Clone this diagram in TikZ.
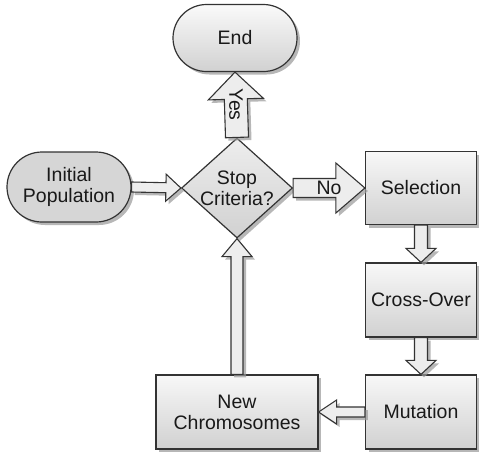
\documentclass[tikz,border=0pt]{standalone}
\usepackage{fontspec}
\setmainfont{Liberation Sans}
\usetikzlibrary{shapes.geometric,shapes.misc,shadows,calc}

\tikzstyle{sombra}= [drop shadow={shadow xshift=3pt,shadow yshift=-3pt,fill=black!40,opacity=0.7}]
\tikzstyle{texto}= [font=\fontsize{19.5}{21}\selectfont,text=black!90,align=center]
\tikzstyle{proceso}= [rectangle,draw=black!80,line width=1.2pt,top color=black!3,bottom color=black!18,sombra,texto,inner sep=0pt,minimum width=111pt,minimum height=74pt]
\tikzstyle{terminal}= [rounded rectangle,draw=black!80,line width=1.2pt,sombra,texto,inner sep=0pt,minimum width=124pt]
\tikzstyle{decision}= [diamond,draw=black!80,line width=1.2pt,top color=black!7,bottom color=black!18,sombra,inner sep=0pt,minimum width=111pt,minimum height=100pt]
\tikzset{flecha/.style args={#1/#2/#3}{draw=black!80,line width=1.1pt,fill=black!7,sombra,
  to path={let \p1=(\tikztostart), \p2=(\tikztotarget), \n1={atan2(\y2-\y1,\x2-\x1)} in
    ($(\p1)+(\n1+90:#1)$) -- ($(\p2)+(\n1+180:#3)+(\n1+90:#1)$) -- ($(\p2)+(\n1+180:#3)+(\n1+90:#2)$)
    -- (\p2) -- ($(\p2)+(\n1+180:#3)+(\n1-90:#2)$) -- ($(\p2)+(\n1+180:#3)+(\n1-90:#1)$)
    -- ($(\p1)+(\n1-90:#1)$) -- cycle}}}

\begin{document}
\begin{tikzpicture}[x=1pt,y=-1pt]
		\useasboundingbox (0,0) rectangle (479,459);

		\node (fin) at (235,38) [terminal,minimum height=67pt,top color=black!2,bottom color=black!18] {End};
		\node (inicio) at (69,187) [terminal,minimum height=70pt,fill=black!16] {Initial\\Population};

		\node (parada) at (237,188) [decision,label={[texto]center:Stop\\Criteria?}] {};

		\node (seleccion) at (421,188) [proceso,minimum height=73pt] {Selection};
		\node (cruce) at (421,300) [proceso] {Cross-Over};
		\node (mutacion) at (421,412) [proceso] {Mutation};
		\node (nuevos) at (237,412) [proceso,minimum width=162pt] {New\\Chromosomes};

		\path[flecha={5pt/13.5pt/15pt}] (inicio.east) to (parada.west);
		\path[flecha={9.5pt/25pt/29pt}] (parada.east) to (seleccion.west);
		\path[flecha={11.5pt/27.5pt/27pt}] (parada.north) to (fin.south);
		\path[flecha={6.5pt/15pt/14pt}] (seleccion.south) to (cruce.north);
		\path[flecha={6.5pt/15pt/14pt}] (cruce.south) to (mutacion.north);
		\path[flecha={5pt/12pt/18pt}] (mutacion.west) to (nuevos.east);
		\path[flecha={6pt/15pt/18pt}] (nuevos.north) to (parada.south);

		\node (si) at ($(parada.north)!0.5!(fin.south)$) [texto,rotate=-90] {Yes};
		\node (no) at ($(parada.east)!0.5!(seleccion.west)$) [texto] {No};

	\end{tikzpicture}
\end{document}
